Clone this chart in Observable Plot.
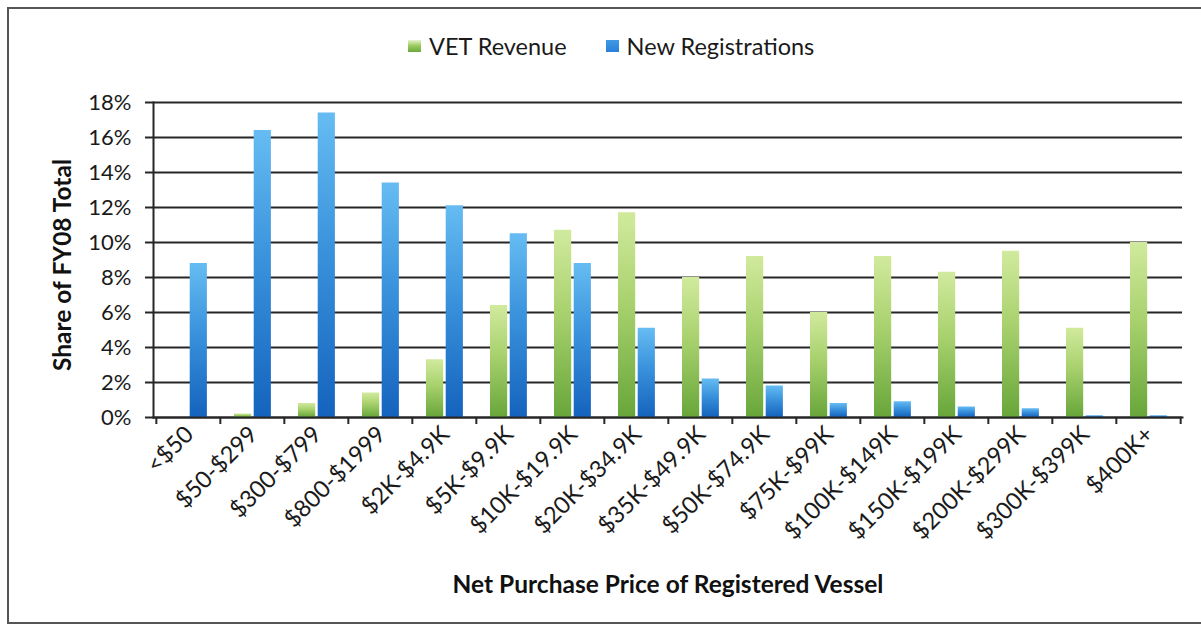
<!DOCTYPE html>
<html>
<head>
<meta charset="utf-8">
<script src="https://cdn.jsdelivr.net/npm/d3@7"></script>
<script src="https://cdn.jsdelivr.net/npm/@observablehq/plot@0.6"></script>
<style>
  body { margin: 0; background: #fff; font-family: Lato, "Open Sans", sans-serif; }
  #wrap { position: relative; width: 1201px; height: 629px; overflow: hidden; background: #fff; }
  #border { position: absolute; left: 7px; top: 7px; width: 1200px; height: 617px; border: 2px solid #555; box-sizing: border-box; pointer-events: none; }
  #chart { position: absolute; left: 0; top: 0; }
  #legend { position: absolute; top: 32px; left: 408px; display: flex; align-items: center; font-size: 23.5px; color: #1a1a1a; white-space: nowrap; }
  .sw { display: inline-block; width: 13px; height: 12px; margin-right: 8px; }
  .item { display: flex; align-items: center; margin-right: 39px; }
  #ytitle { position: absolute; left: 61px; top: 265px; transform: translate(-50%, -50%) rotate(-90deg); font-weight: bold; font-size: 24.5px; color: #111; white-space: nowrap; }
  #xtitle { position: absolute; left: 668px; top: 583px; transform: translate(-50%, -50%); font-weight: bold; font-size: 24.5px; color: #111; white-space: nowrap; }
</style>
</head>
<body>
<div id="wrap">
  <div id="chart"></div>
  <div id="legend"></div>
  <div id="ytitle"></div>
  <div id="xtitle"></div>
  <div id="border"></div>
</div>
<script>
// ---- data ----
const categories = ["<$50", "$50-$299", "$300-$799", "$800-$1999", "$2K-$4.9K", "$5K-$9.9K", "$10K-$19.9K", "$20K-$34.9K", "$35K-$49.9K", "$50K-$74.9K", "$75K-$99K", "$100K-$149K", "$150K-$199K", "$200K-$299K", "$300K-$399K", "$400K+"];
const vetRevenue =       [0.0, 0.2, 0.8, 1.4, 3.3, 6.4, 10.7, 11.7, 8.0, 9.2, 6.0, 9.2, 8.3, 9.5, 5.1, 10.0];
const newRegistrations = [8.8, 16.4, 17.4, 13.4, 12.1, 10.5, 8.8, 5.1, 2.2, 1.8, 0.8, 0.9, 0.6, 0.5, 0.1, 0.1];
const yTicks = [0, 2, 4, 6, 8, 10, 12, 14, 16, 18];
const seriesNames = ["VET Revenue", "New Registrations"];
const yTitle = "Share of FY08 Total";
const xTitle = "Net Purchase Price of Registered Vessel";

// ---- layout ----
const W = 1201, H = 629, mL = 153, mR = 19, mT = 102, mB = 212;
const step = (W - mL - mR) / categories.length;
const barW = 17.5, outer = 14, gap = 2.2;
const axisColor = "#262626";

const data = categories.map((c, i) => ({category: c, vet: vetRevenue[i], reg: newRegistrations[i]}));

const plot = Plot.plot({
  width: W, height: H,
  marginLeft: mL, marginRight: mR, marginTop: mT, marginBottom: mB,
  style: {fontFamily: "Lato, 'Open Sans', sans-serif", fontSize: "20px", color: "#1a1a1a", background: "transparent", overflow: "visible"},
  x: {domain: categories, padding: 0, label: null},
  y: {domain: [0, 18], label: null},
  marks: [
    Plot.gridY(yTicks, {stroke: axisColor, strokeOpacity: 1, strokeWidth: 2}),
    Plot.barY(data, {x: "category", y: "vet", fill: "url(#gradGreen)", insetLeft: outer, insetRight: step - outer - barW}),
    Plot.barY(data, {x: "category", y: "reg", fill: "url(#gradBlue)", insetLeft: outer + barW + gap, insetRight: step - outer - 2 * barW - gap}),
    Plot.frame({anchor: "left", stroke: axisColor, strokeWidth: 2}),
    Plot.frame({anchor: "bottom", stroke: axisColor, strokeWidth: 2}),
    Plot.axisY(yTicks, {tickFormat: d => d + "%", tickSize: 8, tickPadding: 14, stroke: axisColor, strokeWidth: 2, fontSize: 22, label: null}),
    Plot.axisX({tickSize: 0, tickRotate: -45, tickPadding: 13, fontSize: 23.5, label: null, dx: 1}),
    Plot.axisX({text: null, tickSize: 7, dx: -step / 2, stroke: axisColor, strokeWidth: 2, label: null}),
    Plot.axisX([categories[categories.length - 1]], {text: null, tickSize: 7, dx: step / 2, stroke: axisColor, strokeWidth: 2, label: null})
  ]
});

const svgNode = plot.tagName.toLowerCase() === "svg" ? plot : plot.querySelector("svg");
const defs = d3.select(svgNode).insert("defs", ":first-child");
function addGrad(id, stops) {
  const g = defs.append("linearGradient").attr("id", id).attr("x1", 0).attr("y1", 0).attr("x2", 0).attr("y2", 1);
  stops.forEach(([o, c]) => g.append("stop").attr("offset", o).attr("stop-color", c));
}
addGrad("gradGreen", [["0%", "#d1ea9e"], ["45%", "#a8d16d"], ["100%", "#68a63a"]]);
addGrad("gradBlue", [["0%", "#66bcf2"], ["45%", "#3a92dc"], ["100%", "#1463bd"]]);
document.getElementById("chart").appendChild(plot);

// legend
const legend = d3.select("#legend");
const swatchBg = ["linear-gradient(#e6f3d0 0%, #9fcd62 45%, #6aa83a 100%)", "linear-gradient(#3f9ae6, #2a7fd6)"];
seriesNames.forEach((name, i) => {
  const it = legend.append("div").attr("class", "item");
  it.append("span").attr("class", "sw").style("background", swatchBg[i]);
  it.append("span").text(name);
});
document.getElementById("ytitle").textContent = yTitle;
document.getElementById("xtitle").textContent = xTitle;
</script>
</body>
</html>
